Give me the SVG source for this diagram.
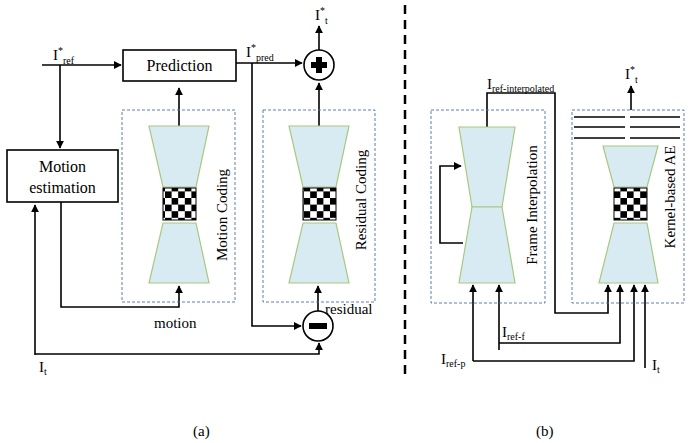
<svg xmlns="http://www.w3.org/2000/svg" width="691" height="443" viewBox="0 0 691 443">
<style>
.t{font-family:"Liberation Serif","DejaVu Serif",serif;fill:#000}
.ln{stroke:#000;stroke-width:1.6;fill:none}
.box{fill:#fff;stroke:#000;stroke-width:1.6}
.dash{fill:none;stroke:#4f6f9f;stroke-width:0.9;stroke-dasharray:3 2}
.tr{fill:#d9ebf2;stroke:#a8c880;stroke-width:1.2}
.chk{fill:url(#ck);stroke:#000;stroke-width:1}
</style>
<defs>
<marker id="a" viewBox="0 0 10 10" refX="9" refY="5" markerWidth="5" markerHeight="5" orient="auto"><path d="M0,0L10,5L0,10z" fill="#000"/></marker>
<pattern id="ck" x="0" y="0" width="13.2" height="13.2" patternUnits="userSpaceOnUse"><rect width="13.2" height="13.2" fill="#fff"/><rect width="6.6" height="6.6" fill="#000"/><rect x="6.6" y="6.6" width="6.6" height="6.6" fill="#000"/></pattern>
</defs>
<rect width="691" height="443" fill="#fff"/>
<g id="connectors">
<path class="ln" d="M42,65H121" marker-end="url(#a)"/>
<path class="ln" d="M60,65V148" marker-end="url(#a)"/>
<path class="ln" d="M179,126V88" marker-end="url(#a)"/>
<path class="ln" d="M61,202V307H179V286" marker-end="url(#a)"/>
<path class="ln" d="M35,355V205" marker-end="url(#a)"/>
<path class="ln" d="M35,354H319V343" marker-end="url(#a)"/>
<path class="ln" d="M236,63H302" marker-end="url(#a)"/>
<path class="ln" d="M252,63V326H301" marker-end="url(#a)"/>
<path class="ln" d="M319,126V83" marker-end="url(#a)"/>
<path class="ln" d="M319,50V26" marker-end="url(#a)"/>
<path class="ln" d="M318,311V286" marker-end="url(#a)"/>
<path d="M405,5V375" stroke="#000" stroke-width="2.5" stroke-dasharray="9 6"/>
<path class="ln" d="M463,243H440V166H461" marker-end="url(#a)"/>
<path class="ln" d="M487,127V93H555V313H608V285" marker-end="url(#a)"/>
<path class="ln" d="M631,110V86" marker-end="url(#a)"/>
<path class="ln" d="M473,361V285" marker-end="url(#a)"/>
<path class="ln" d="M473,361H634V285" marker-end="url(#a)"/>
<path class="ln" d="M499,350V285" marker-end="url(#a)"/>
<path class="ln" d="M499,343H620V285" marker-end="url(#a)"/>
<path class="ln" d="M645,368V285" marker-end="url(#a)"/>
</g>
<g id="prediction"><rect class="box" x="123" y="50" width="113" height="31"/><text class="t" x="179.5" y="71" font-size="16" text-anchor="middle">Prediction</text></g>
<g id="motion-est"><rect class="box" x="7" y="150" width="111" height="52"/><text class="t" x="62.5" y="172" font-size="16" text-anchor="middle">Motion</text><text class="t" x="62.5" y="193" font-size="16" text-anchor="middle">estimation</text></g>
<g id="motion-coding">
<rect class="dash" x="122" y="110" width="113" height="192"/>
<path class="tr" d="M149,126H209L196,187H163z"/>
<rect class="chk" x="163" y="188" width="33" height="32"/>
<path class="tr" d="M163,223H196L209,283H149z"/>
<text class="t" font-size="15" text-anchor="middle" transform="translate(227,215) rotate(-90)">Motion Coding</text>
</g>
<g id="residual-coding">
<rect class="dash" x="263" y="110" width="112" height="192"/>
<path class="tr" d="M289,126H349L336,187H303z"/>
<rect class="chk" x="303" y="188" width="33" height="32"/>
<path class="tr" d="M303,223H336L349,283H289z"/>
<text class="t" font-size="15" text-anchor="middle" transform="translate(366,200) rotate(-90)">Residual Coding</text>
</g>
<g id="plus"><circle cx="319" cy="65" r="15" fill="#fff" stroke="#000" stroke-width="1.6"/><path d="M316,57h6v5h5v6h-5v5h-6v-5h-5v-6h5z" fill="#000"/></g>
<g id="minus"><circle cx="318" cy="326" r="15" fill="#fff" stroke="#000" stroke-width="1.6"/><rect x="309" y="323" width="18" height="6" fill="#000"/></g>
<g id="frame-interp">
<rect class="dash" x="431" y="110" width="114" height="193"/>
<path class="tr" d="M459,127H515L502,207H472z"/>
<path class="tr" d="M472,207H502L515,283H459z"/>
<text class="t" font-size="15" text-anchor="middle" transform="translate(537,205) rotate(-90)">Frame Interpolation</text>
</g>
<g id="kernel-ae">
<rect class="dash" x="572" y="110" width="112" height="193"/>
<path class="ln" d="M574,117H625M630,117H680M574,127H625M630,127H680M574,138H625M630,138H680"/>
<path class="tr" d="M603,146H658L647,187H614z"/>
<rect class="chk" x="614" y="188" width="33" height="32"/>
<path class="tr" d="M614,223H647L658,283H599z"/>
<text class="t" font-size="15" text-anchor="middle" transform="translate(675,197) rotate(-90)">Kernel-based AE</text>
</g>
<g id="labels" class="t" font-size="15">
<text x="53" y="60">I<tspan font-size="10" dy="-6">*</tspan><tspan font-size="10" dy="10">ref</tspan></text>
<text x="246" y="57">I<tspan font-size="10" dy="-6">*</tspan><tspan font-size="10" dy="10">pred</tspan></text>
<text x="315" y="20">I<tspan font-size="10" dy="-6">*</tspan><tspan font-size="10" dy="10">t</tspan></text>
<text x="154" y="328">motion</text>
<text x="325" y="314">residual</text>
<text x="39" y="372">I<tspan font-size="10" dy="3">t</tspan></text>
<text x="487" y="89">I<tspan font-size="10" dy="3">ref-interpolated</tspan></text>
<text x="625" y="79">I<tspan font-size="10" dy="-6">*</tspan><tspan font-size="10" dy="10">t</tspan></text>
<text x="502" y="337">I<tspan font-size="10" dy="3">ref-f</tspan></text>
<text x="441" y="364">I<tspan font-size="10" dy="3">ref-p</tspan></text>
<text x="652" y="370">I<tspan font-size="10" dy="3">t</tspan></text>
<text x="193" y="436">(a)</text>
<text x="536" y="436">(b)</text>
</g>
</svg>
